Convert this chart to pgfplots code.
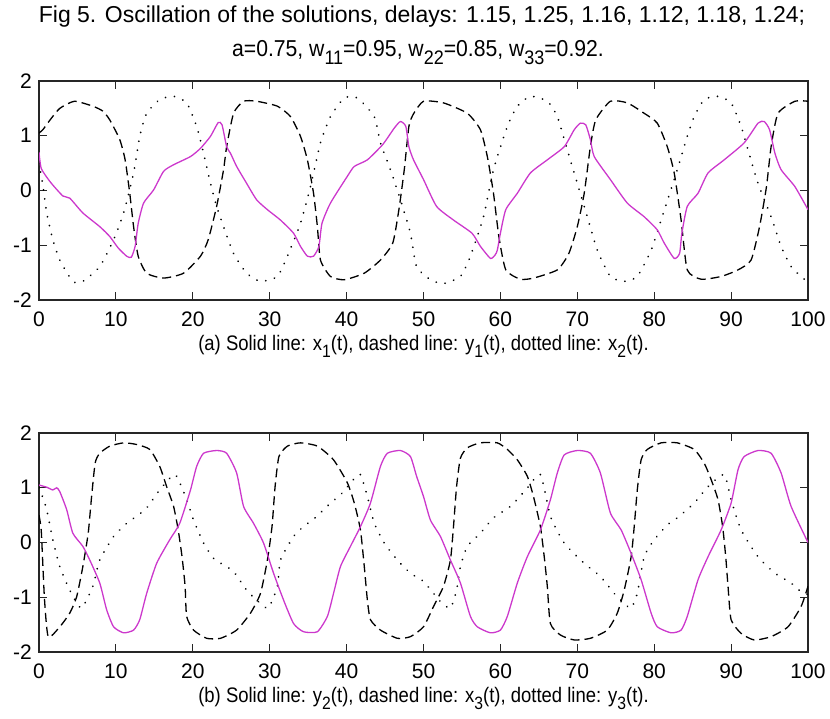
\documentclass[border=0pt]{standalone}
\usepackage{pgfplots}
\pgfplotsset{compat=1.18}
\usepackage{fontspec}
\setmainfont{Liberation Sans}
\newfontfamily\capfont{Liberation Sans}[FakeStretch=0.88]
\newfontfamily\linefont{Liberation Sans}[FakeStretch=0.92]
\newcommand{\sub}[1]{\raisebox{-0.36em}{\scalebox{0.85}{#1}}}
\definecolor{mag}{rgb}{0.80,0.22,0.80}
\pgfplotsset{
  mystyle/.style={
    width=769pt, height=219pt, scale only axis, anchor=south west,
    xmin=0, xmax=100, ymin=-2, ymax=2,
    xtick={0,10,...,100}, ytick={-2,-1,0,1,2},
    xticklabels={0,10,20,30,40,50,60,70,80,90,100},
    yticklabels={-2,-1,0,1,2},
    tick align=inside, tick pos=both,
    major tick length=8pt,
    every tick/.style={line width=1pt, black!85},
    axis line style={line width=1.2pt, black!85},
    tick label style={font=\fontsize{21}{21}\selectfont, inner sep=0pt},
    xticklabel shift=12pt, yticklabel shift=7pt,
    xlabel style={at={(axis description cs:0.5,0)}, anchor=north, yshift=-35pt, inner sep=0pt, font=\capfont\fontsize{21}{21}\selectfont},
    clip=true,
  },
  sol/.style={mag, line width=1.3pt, smooth, tension=0.35},
  dsh/.style={black, line width=1.3pt, dash pattern=on 9pt off 5pt, smooth, tension=0.35},
  dtt/.style={black, line width=1.9pt, line cap=round, dash pattern=on 0.05pt off 9pt, smooth, tension=0.35},
}
\begin{document}
\begin{tikzpicture}
\useasboundingbox (0,0) rectangle (830pt,719pt);
\node[anchor=base, inner sep=0pt, font=\fontsize{23}{23}\selectfont] at (422pt,696.5pt) {Fig 5. Oscillation of the solutions, delays: 1.15, 1.25, 1.16, 1.12, 1.18, 1.24;};
\node[anchor=base, inner sep=0pt, font=\linefont\fontsize{23}{23}\selectfont] at (418pt,662.5pt) {a=0.75, w\sub{11}=0.95, w\sub{22}=0.85, w\sub{33}=0.92.};
\begin{axis}[mystyle, at={(39pt,419pt)},
  xlabel={(a) Solid line: x\sub{1}(t), dashed line: y\sub{1}(t), dotted line: x\sub{2}(t).}]
\addplot[dtt] coordinates {(0,0.5) (0.5,0.1) (1,-0.41) (1.8,-0.90) (2.7,-1.27) (4.4,-1.66) (5.7,-1.66) (7.9,-1.39) (9.7,-0.90) (11,-0.41) (12.3,0.32) (13.1,0.99) (14,1.41) (15.7,1.66) (17.5,1.72) (19.2,1.60) (20.5,1.17) (21.4,0.68) (22.3,0.13) (23.1,-0.29) (24,-0.66) (25.3,-1.15) (27,-1.51) (28.8,-1.66) (31,-1.57) (32.3,-1.20) (34,-0.60) (35.3,0.07) (36.6,0.87) (37.9,1.35) (39.7,1.69) (41.4,1.69) (43.6,1.35) (44.4,0.87) (45.7,0.38) (47,-0.17) (48.3,-0.78) (49.1,-1.39) (50.9,-1.63) (52.6,-1.70) (54.8,-1.57) (56.1,-1.20) (57.8,-0.48) (59.1,0.38) (60.9,1.17) (62.2,1.54) (63.9,1.72) (66.1,1.63) (67.4,1.35) (68.7,0.74) (70,0.13) (71.3,-0.48) (72.6,-1.09) (74.3,-1.57) (76.1,-1.66) (77.8,-1.57) (79.6,-1.09) (80.9,-0.54) (83,0.38) (84.3,0.99) (85.2,1.35) (86.5,1.66) (88.3,1.72) (90,1.60) (91.3,1.17) (92.2,0.74) (93.5,0.13) (95.2,-0.48) (96.5,-1.02) (97.8,-1.39) (99.6,-1.63) (100,-1.65)};
\addplot[dsh] coordinates {(0,1.05) (0.5,1.11) (1.5,1.30) (2.7,1.50) (4.6,1.63) (7,1.54) (8.3,1.45) (9.2,1.29) (10.5,0.93) (11.2,0.56) (11.8,-0.05) (12.3,-0.66) (12.9,-1.20) (14,-1.51) (16.2,-1.60) (18.8,-1.51) (21,-1.20) (22,-0.90) (23.1,-0.29) (24,0.38) (24.4,0.80) (25.3,1.41) (26.6,1.63) (28.3,1.63) (31,1.54) (32.7,1.35) (34,0.99) (34.9,0.56) (35.7,-0.05) (36.2,-0.66) (36.6,-1.27) (37.9,-1.57) (39.7,-1.63) (42.3,-1.51) (44.4,-1.27) (46,-0.96) (46.8,-0.35) (47.5,0.38) (48.1,1.17) (48.7,1.40) (50,1.63) (52.6,1.60) (55.7,1.41) (57.4,1.11) (58.3,0.62) (59.1,-0.05) (59.8,-0.84) (60.7,-1.45) (62.6,-1.62) (64.3,-1.60) (67.4,-1.45) (68.9,-1.15) (70,-0.66) (70.9,-0.05) (71.7,0.80) (72.4,1.29) (74.3,1.63) (76.5,1.60) (78.7,1.41) (80.4,1.23) (81.7,0.80) (82.6,0.32) (83.5,-0.54) (84.3,-1.45) (86.1,-1.62) (88.7,-1.57) (90.9,-1.45) (92.6,-1.27) (93.7,-0.66) (94.6,0.07) (95.2,0.80) (96.1,1.41) (98.3,1.63) (100,1.63)};
\addplot[sol] coordinates {(0,0.70) (0.3,0.40) (1.5,0.15) (3.1,-0.10) (4,-0.14) (5.7,-0.41) (7.9,-0.66) (9.2,-0.84) (10.3,-1.05) (11.4,-1.20) (12.0,-1.22) (12.5,-1.02) (12.9,-0.60) (13.6,-0.23) (14.9,0.01) (16.2,0.35) (17.5,0.47) (19.7,0.62) (21,0.77) (22.3,0.99) (23.3,1.24) (23.8,1.20) (24.4,0.80) (24.9,0.68) (25.7,0.44) (27,0.13) (28.3,-0.17) (29.7,-0.35) (31.4,-0.54) (33.1,-0.78) (34,-1.02) (34.9,-1.20) (35.7,-1.20) (36.4,-1.02) (36.8,-0.60) (37.9,-0.23) (40.1,0.26) (41,0.44) (42.7,0.56) (44.7,0.84) (46.2,1.14) (47.0,1.26) (47.7,1.17) (48.1,0.80) (48.7,0.56) (50,0.20) (51.7,-0.29) (53.9,-0.54) (56.3,-0.78) (57.4,-1.02) (58.7,-1.24) (59.3,-1.18) (59.6,-1.09) (60,-0.78) (60.7,-0.35) (62.2,-0.05) (63.9,0.32) (66.1,0.56) (68.3,0.80) (69.6,1.11) (70.4,1.23) (71.1,1.20) (71.7,0.93) (72.2,0.62) (74.3,0.20) (76.5,-0.23) (78.7,-0.48) (80.4,-0.72) (81.3,-0.96) (82.6,-1.24) (83.3,-1.15) (83.6,-0.78) (84.3,-0.29) (85.7,-0.05) (87,0.32) (89.1,0.56) (91.7,0.87) (93.5,1.23) (94.3,1.26) (95,1.11) (95.7,0.68) (96.5,0.38) (98.3,0.07) (100,-0.35)};
\end{axis}
\begin{axis}[mystyle, at={(39pt,67pt)},
  xlabel={(b) Solid line: y\sub{2}(t), dashed line: x\sub{3}(t), dotted line: y\sub{3}(t).}]
\addplot[dtt] coordinates {(0,1.0) (0.3,0.90) (1,0.60) (1.8,0.05) (2.7,-0.44) (4,-0.87) (5.5,-1.20) (7,-0.80) (7.9,-0.32) (9.7,0.11) (11.4,0.35) (12.7,0.48) (14,0.63) (15.7,0.96) (17.7,1.24) (19.2,0.78) (20.1,0.41) (21.4,-0.01) (22.7,-0.29) (24,-0.41) (25.3,-0.53) (27,-0.87) (28.3,-1.05) (29.8,-1.20) (31,-0.80) (31.4,-0.32) (33.1,0.11) (34.4,0.29) (35.9,0.45) (37.9,0.72) (39.2,0.87) (40.9,1.15) (41.8,1.24) (42.7,0.84) (43.6,0.35) (44.9,-0.01) (46.6,-0.32) (48.3,-0.56) (50,-0.71) (51.3,-0.93) (52.2,-1.08) (53.5,-1.20) (54.3,-0.87) (54.8,-0.44) (55.7,-0.07) (57.4,0.17) (59.1,0.45) (61.3,0.66) (63.3,0.96) (65.2,1.24) (66.5,0.48) (68.3,-0.01) (70.9,-0.38) (73,-0.62) (74.8,-0.93) (76.1,-1.11) (77,-1.20) (77.8,-0.93) (78.7,-0.26) (80,0.05) (81.7,0.32) (83,0.45) (85.2,0.72) (87,1.02) (89.1,1.24) (90,0.78) (91.3,0.23) (93.5,-0.26) (95.7,-0.56) (97.8,-0.74) (99.1,-0.90) (100,-0.95)};
\addplot[dsh] coordinates {(0,0.5) (0.3,0.2) (0.7,-1.0) (1.2,-1.72) (2.7,-1.54) (4,-1.29) (4.9,-0.99) (5.7,-0.44) (6.4,0.17) (6.8,0.78) (7.3,1.45) (7.9,1.63) (9.2,1.76) (11,1.82) (12.7,1.79) (14.4,1.70) (15.7,1.39) (16.6,1.02) (17.5,0.66) (18.1,0.23) (18.6,-0.26) (19,-0.80) (19.2,-1.35) (20.1,-1.60) (21.8,-1.75) (23.6,-1.75) (25.7,-1.60) (27.5,-1.29) (28.8,-0.93) (29.7,-0.32) (30.3,0.29) (30.7,1.02) (31.2,1.57) (32.3,1.76) (34,1.82) (36.2,1.76) (38.3,1.51) (40.1,1.09) (41,0.72) (41.8,0.23) (42.3,-0.44) (42.7,-1.05) (43.1,-1.41) (44.4,-1.60) (46.6,-1.75) (48.3,-1.72) (50,-1.54) (51.3,-1.17) (52.6,-0.80) (53.5,-0.32) (53.9,0.29) (54.3,1.02) (54.8,1.54) (55.7,1.73) (57.4,1.82) (59.6,1.82) (60.9,1.70) (62.2,1.51) (63.5,1.21) (64.3,0.84) (65.2,0.29) (65.7,-0.26) (66.1,-0.80) (66.5,-1.48) (67.8,-1.69) (69.6,-1.78) (71.7,-1.75) (73.9,-1.60) (75.2,-1.29) (76.1,-0.87) (77,-0.26) (77.4,0.29) (77.8,0.96) (78.3,1.51) (79.1,1.70) (80.9,1.82) (83,1.82) (85.2,1.70) (86.5,1.45) (87.4,1.15) (88.3,0.78) (88.9,0.29) (89.3,-0.26) (89.6,-0.80) (90,-1.41) (91.3,-1.66) (93,-1.78) (95.2,-1.72) (97.4,-1.54) (99.1,-1.17) (100,-0.80)};
\addplot[sol] coordinates {(0,1.05) (1,1.01) (1.8,0.96) (2.3,1.00) (2.7,0.93) (3.6,0.60) (4.4,0.17) (5.7,-0.07) (6.6,-0.32) (7.9,-0.74) (8.8,-1.23) (9.7,-1.54) (11,-1.65) (12.3,-1.60) (13.1,-1.41) (14,-0.93) (15.3,-0.38) (17,0.05) (18.3,0.35) (19.7,0.96) (20.5,1.39) (21.4,1.63) (23.1,1.68) (24.4,1.63) (25.7,1.27) (26.6,0.66) (27.9,0.35) (29.2,-0.01) (30.5,-0.56) (31.8,-1.05) (33.1,-1.48) (34.4,-1.63) (36.2,-1.63) (37.5,-1.35) (38.3,-0.93) (39.2,-0.44) (40.5,-0.07) (41.8,0.29) (43.1,0.72) (44.4,1.39) (45.3,1.63) (47,1.68) (48.3,1.57) (49.1,1.21) (50,0.84) (50.9,0.41) (52.2,0.11) (53.5,-0.32) (54.8,-0.74) (56.1,-1.35) (57,-1.54) (58.7,-1.65) (60,-1.60) (60.9,-1.35) (62.2,-0.74) (63.5,-0.26) (65.2,0.23) (66.5,0.78) (67.4,1.27) (68.3,1.60) (70,1.68) (71.7,1.63) (73,1.27) (74.3,0.54) (75.7,0.23) (77,-0.20) (78.3,-0.68) (79.6,-1.29) (80.4,-1.54) (82.2,-1.65) (83.5,-1.60) (84.3,-1.35) (85.7,-0.68) (87,-0.26) (88.7,0.23) (90,0.72) (90.9,1.33) (91.7,1.57) (93.5,1.68) (95.2,1.63) (96.5,1.27) (97.8,0.66) (100,0.00)};
\end{axis}
\end{tikzpicture}
\end{document}
